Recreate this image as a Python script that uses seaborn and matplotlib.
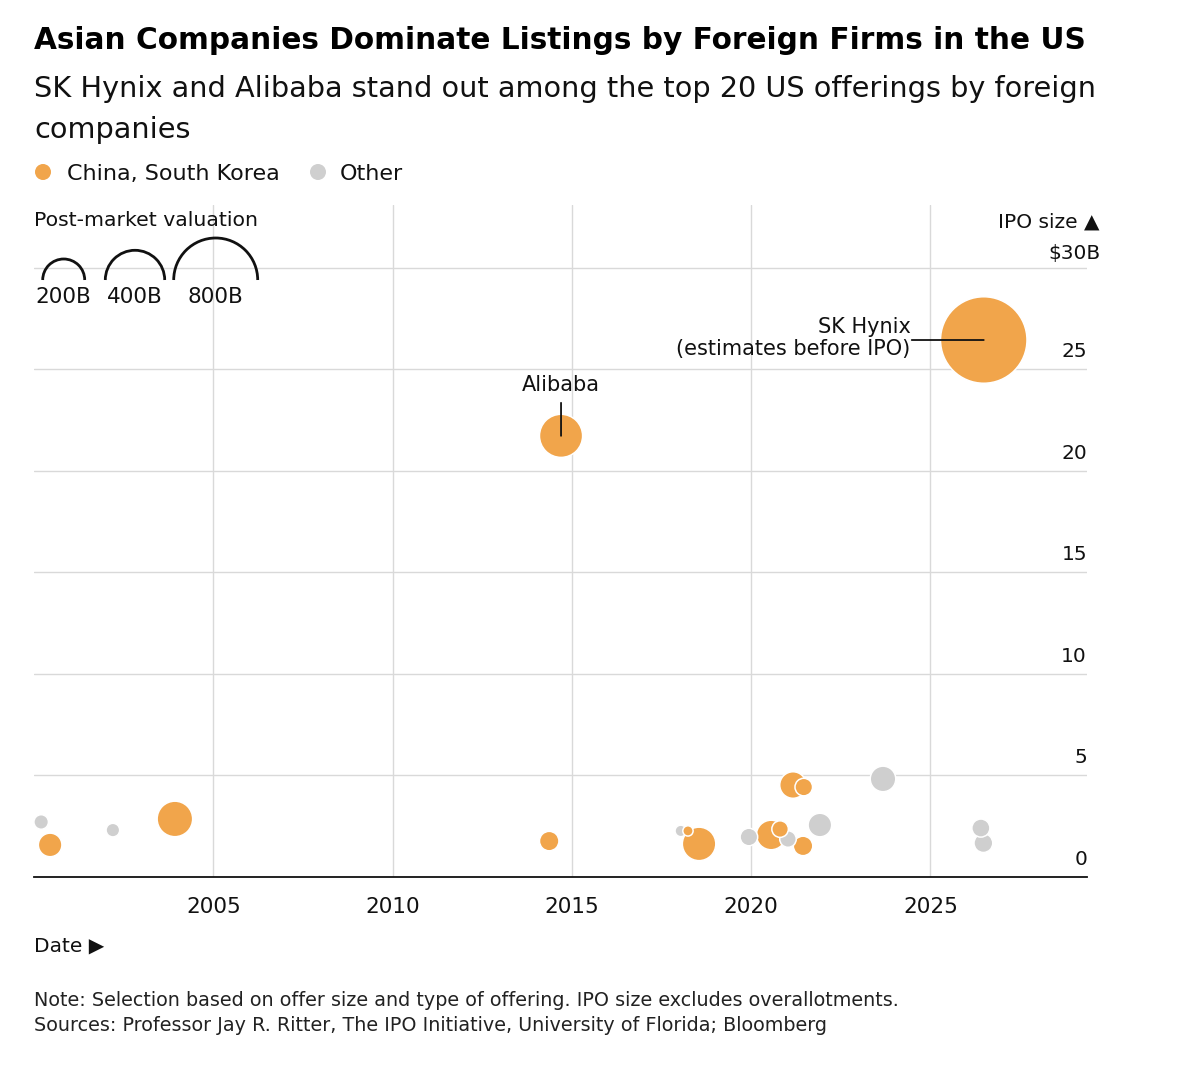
import numpy as np
import pandas as pd
import matplotlib
matplotlib.use("Agg")
import matplotlib.pyplot as plt
import seaborn as sns
from matplotlib.patches import Arc, Circle
from matplotlib.transforms import Affine2D, ScaledTranslation, blended_transform_factory

# ---------------- data ----------------
listing_year = [2000.20, 2000.45, 2002.20, 2003.93, 2014.37, 2014.70,
                2018.04, 2018.24, 2018.55, 2019.94, 2020.56, 2020.81,
                2021.03, 2021.45, 2021.17, 2021.47, 2021.92, 2023.68,
                2026.41, 2026.48, 2026.49]
ipo_size_bn = [2.71, 1.58, 2.31, 2.86, 1.77, 21.73,
               2.27, 2.27, 1.63, 1.97, 2.07, 2.36,
               1.87, 1.53, 4.53, 4.43, 2.56, 4.83,
               2.41, 1.67, 26.45]
valuation_bn = [24, 63, 21, 143, 43, 211,
                15, 12, 127, 35, 99, 31,
                31, 43, 80, 35, 63, 74,
                37, 40, 848]
ASIA, OTHER = "China, South Korea", "Other"
group = [OTHER, ASIA, OTHER, ASIA, ASIA, ASIA,
         OTHER, ASIA, ASIA, OTHER, ASIA, ASIA,
         OTHER, ASIA, ASIA, ASIA, OTHER, OTHER,
         OTHER, OTHER, ASIA]
company = ["", "", "", "", "", "Alibaba",
           "", "", "", "", "", "",
           "", "", "", "", "", "",
           "", "", "SK Hynix"]
legend_valuations = [200, 400, 800]
legend_labels = ["200B", "400B", "800B"]
x_ticks = [2005, 2010, 2015, 2020, 2025]
y_ticks = [0, 5, 10, 15, 20, 25]

ORANGE = "#F1A54B"
GREY = "#CFCFCF"
GRID = "#D9D9D9"

W, H = 1200, 1068
DPI = 100

# area scale: radius_px = K * sqrt(valuation)
K = 1.485
AREA_PER_BN = (2 * K * 72 / DPI) ** 2   # points^2 per $1B valuation

df = pd.DataFrame({"year": listing_year, "size": ipo_size_bn,
                   "valuation": valuation_bn, "group": group, "company": company})
df = df.sort_values("valuation", ascending=False).reset_index(drop=True)

sns.set_theme(style="white")
plt.rcParams["font.family"] = ["DejaVu Sans"]

fig = plt.figure(figsize=(W / DPI, H / DPI), dpi=DPI)
fig.patch.set_facecolor("white")

def fx(x):
    return x / W

def fy(y):
    return 1 - y / H

ax_left, ax_right, ax_top, ax_bottom = 34, 1087, 205, 877
ax = fig.add_axes([fx(ax_left), fy(ax_bottom), fx(ax_right - ax_left), (ax_bottom - ax_top) / H])

sns.scatterplot(data=df, x="year", y="size", hue="group", size="valuation",
                palette={ASIA: ORANGE, OTHER: GREY},
                sizes=(0, AREA_PER_BN * 1000), size_norm=(0, 1000),
                edgecolor="white", linewidth=1.1, alpha=1, legend=False,
                ax=ax, zorder=3, clip_on=False)

ax.set_xlim(2000.0, 2029.37)
ax.set_ylim(0, 33.1)
ax.set_xlabel("")
ax.set_ylabel("")
ax.set_facecolor("white")

# axes / ticks
for s in ["top", "right", "left"]:
    ax.spines[s].set_visible(False)
ax.spines["bottom"].set_color("#111111")
ax.spines["bottom"].set_linewidth(1.3)
ax.spines["bottom"].set_zorder(4)

ax.set_xticks(x_ticks)
ax.set_xticklabels([str(t) for t in x_ticks])
ax.set_xticks(np.arange(2001, 2030), minor=True)
ax.tick_params(axis="x", which="major", direction="out", length=8.6, width=1.0,
               color="#111111", labelsize=15.5, pad=5.5, labelcolor="#111111")
ax.tick_params(axis="x", which="minor", direction="out", length=4.3, width=1.0,
               color="#111111")
ax.set_yticks(y_ticks + [30])
ax.tick_params(axis="y", which="both", length=0, labelleft=False, labelright=False)
ax.set_axisbelow(True)
ax.grid(axis="x", which="major", color=GRID, linewidth=1.0)
ax.grid(axis="y", which="major", color=GRID, linewidth=1.0)
ax.grid(axis="x", which="minor", visible=False)

# y labels sitting above gridlines at the right
ytrans = blended_transform_factory(ax.transAxes, ax.transData)
up = ScaledTranslation(0, 12 / DPI, fig.dpi_scale_trans)
for v in y_ticks:
    ax.text(1.0, v, f"{v}", transform=ytrans + up, ha="right", va="baseline",
            fontsize=14.5, color="#111111")
ax.text(1.0, 30, "$30B", transform=ytrans + ScaledTranslation(13 / DPI, 9 / DPI, fig.dpi_scale_trans),
        ha="right", va="baseline", fontsize=14.5, color="#111111")
ax.text(1.0, 30, "IPO size \u25B2", transform=ytrans + ScaledTranslation(13 / DPI, 40 / DPI, fig.dpi_scale_trans),
        ha="right", va="baseline", fontsize=14.5, color="#111111")

# annotations
ali = df[df["company"] == "Alibaba"].iloc[0]
ax.annotate("", xy=(ali["year"], ali["size"]), xytext=(0, 33), textcoords="offset pixels",
            arrowprops=dict(arrowstyle="-", color="#111111", lw=1.3, shrinkA=0, shrinkB=0), zorder=5)
ax.annotate("Alibaba", xy=(ali["year"], ali["size"]), xytext=(0, 51), textcoords="offset pixels",
            ha="center", va="center", fontsize=15, color="#111111", zorder=5)

hyn = df[df["company"] == "SK Hynix"].iloc[0]
ax.annotate("", xy=(hyn["year"], hyn["size"]), xytext=(-72, 0), textcoords="offset pixels",
            arrowprops=dict(arrowstyle="-", color="#111111", lw=1.3, shrinkA=0, shrinkB=0), zorder=5)
ax.annotate("SK Hynix\n(estimates before IPO)", xy=(hyn["year"], hyn["size"]), xytext=(-73, 2),
            textcoords="offset pixels", ha="right", va="center", multialignment="right",
            linespacing=1.15, fontsize=15, color="#111111", zorder=5)

# ---------------- header texts ----------------
title = fig.text(fx(34), fy(49), "Asian Companies Dominate Listings by Foreign Firms in the US",
                 fontsize=22, fontweight="bold", ha="left", va="baseline", color="#000000")
sub1 = fig.text(fx(34), fy(97), "SK Hynix and Alibaba stand out among the top 20 US offerings by foreign",
                fontsize=20, ha="left", va="baseline", color="#111111")
sub2 = fig.text(fx(34), fy(138), "companies", fontsize=20, ha="left", va="baseline", color="#111111")

# colour legend
PX = Affine2D().scale(1 / DPI) + fig.dpi_scale_trans
fig.add_artist(Circle((43, H - 172), 8, transform=PX, facecolor=ORANGE, edgecolor="none"))
fig.add_artist(Circle((318, H - 172), 8, transform=PX, facecolor=GREY, edgecolor="none"))
fig.text(fx(67), fy(180), ASIA, fontsize=16, ha="left", va="baseline", color="#111111")
fig.text(fx(340), fy(180), OTHER, fontsize=16, ha="left", va="baseline", color="#111111")

# size legend
fig.text(fx(34), fy(226), "Post-market valuation", fontsize=14.7, ha="left", va="baseline", color="#111111")
arc_cx = [63.7, 135, 215.7]
for cx, v, lab in zip(arc_cx, legend_valuations, legend_labels):
    r = K * np.sqrt(v)
    fig.add_artist(Arc((cx, H - 280), 2 * r, 2 * r, theta1=0, theta2=180, transform=PX,
                       color="#111111", lw=2.0))
    fig.text(fx(cx), fy(303), lab, fontsize=15.5, ha="center", va="baseline", color="#111111")

# x-axis title and notes
fig.text(fx(34), fy(952), "Date \u25B6", fontsize=14.5, ha="left", va="baseline", color="#111111")
note1 = fig.text(fx(34), fy(1006), "Note: Selection based on offer size and type of offering. IPO size excludes overallotments.",
                 fontsize=13, ha="left", va="baseline", color="#222222")
note2 = fig.text(fx(34), fy(1031), "Sources: Professor Jay R. Ritter, The IPO Initiative, University of Florida; Bloomberg",
                 fontsize=13, ha="left", va="baseline", color="#222222")

# fit header/notes widths to the reference
fig.canvas.draw()
rend = fig.canvas.get_renderer()
def fit(t, target):
    w = t.get_window_extent(rend).width
    t.set_fontsize(t.get_fontsize() * target / w)

fit(title, 1049)
fit(sub1, 1060)
sub2.set_fontsize(sub1.get_fontsize())
fit(note1, 861)
note2.set_fontsize(note1.get_fontsize())

fig.savefig("out.png", dpi=DPI, facecolor="white")
